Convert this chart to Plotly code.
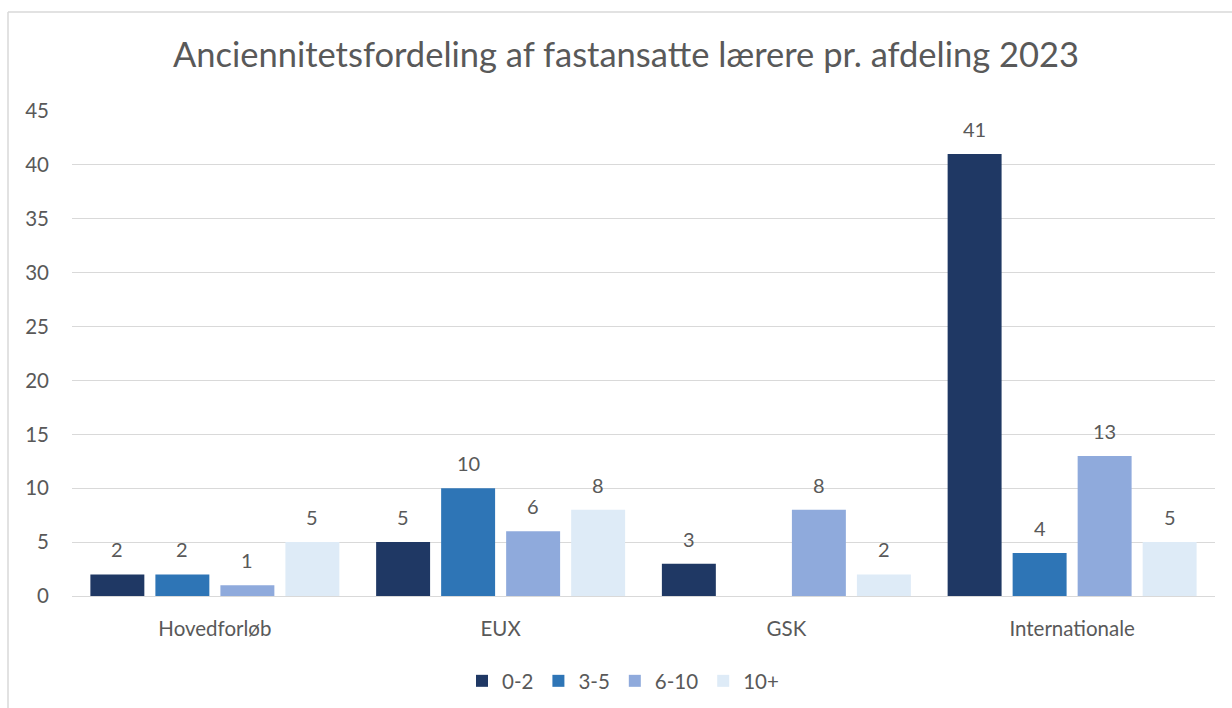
import plotly.graph_objects as go

categories = ["Hovedforløb", "EUX", "GSK", "Internationale"]
series_names = ["0-2", "3-5", "6-10", "10+"]
v_0_2 = [2, 5, 3, 41]
v_3_5 = [2, 10, None, 4]
v_6_10 = [1, 6, 8, 13]
v_10p = [5, 8, 2, 5]
y_ticks = [0, 5, 10, 15, 20, 25, 30, 35, 40, 45]

colors = ["#1F3864", "#2E75B6", "#8FAADC", "#DEEBF7"]
FONT = "Lato, Carlito, Calibri, sans-serif"
TXT = "#595959"

W, H = 1232, 708
l, r, t, b = 72, W - 1215, 111, H - 596
pw = W - l - r
ph = H - t - b
BARGAP, GROUPGAP = 0.09, 0.17

fig = go.Figure()
all_vals = [v_0_2, v_3_5, v_6_10, v_10p]
for name, vals, col in zip(series_names, all_vals, colors):
    fig.add_trace(go.Bar(
        x=categories, y=vals, name=name, marker_color=col, marker_line_width=0,
    ))

# data labels placed above bars
cat_w = pw / len(categories)
slot = cat_w * (1 - BARGAP) / len(series_names)
for i, vals in enumerate(all_vals):
    dx = (i - (len(series_names) - 1) / 2) * slot
    for c, v in zip(categories, vals):
        if v is None:
            continue
        fig.add_annotation(x=c, y=v, text=str(v), showarrow=False, xshift=dx,
                           yanchor="bottom", yshift=11,
                           font=dict(size=20, color=TXT, family=FONT))

fig.update_layout(
    width=W, height=H,
    margin=dict(l=l, r=r, t=t, b=b, autoexpand=False),
    paper_bgcolor="white", plot_bgcolor="white",
    barmode="group", bargap=BARGAP, bargroupgap=GROUPGAP,
    font=dict(family=FONT, color=TXT, size=20),
    title=dict(text="Anciennitetsfordeling af fastansatte lærere pr. afdeling 2023",
               x=626 / W, xanchor="center", y=1 - 55 / H, yanchor="middle",
               font=dict(size=34.5, color=TXT, family=FONT)),
    xaxis=dict(showgrid=False, showline=False, ticks="", tickfont=dict(size=20.5, color=TXT),
               ticklabelstandoff=18, automargin=False),
    yaxis=dict(range=[0, 45], tickvals=y_ticks, showgrid=True, gridcolor="#D9D9D9",
               gridwidth=1.3, zeroline=True, zerolinecolor="#D9D9D9", zerolinewidth=1.3,
               showline=False, ticks="", tickfont=dict(size=20.5, color=TXT), ticklabelstandoff=22,
               automargin=False),
    legend=dict(orientation="h", x=(623 - l) / pw, xanchor="center",
                y=-(681 - 596) / ph, yanchor="middle",
                font=dict(size=20.5, color=TXT), traceorder="normal", itemwidth=30),
    showlegend=True,
)

# chart border (left and top)
bx = (8 - l) / pw
ty = 1 + (t - 12) / ph
fig.add_shape(type="line", xref="paper", yref="paper",
              x0=bx, x1=bx, y0=-(b + 5) / ph, y1=ty,
              line=dict(color="#D9D9D9", width=1.5))
fig.add_shape(type="line", xref="paper", yref="paper",
              x0=bx, x1=(W + 5 - l) / pw, y0=ty, y1=ty,
              line=dict(color="#D9D9D9", width=1.5))

fig.write_html("out.html", config={"displayModeBar": False},
               post_script="document.body.style.margin='0px';document.body.style.overflow='hidden';")
